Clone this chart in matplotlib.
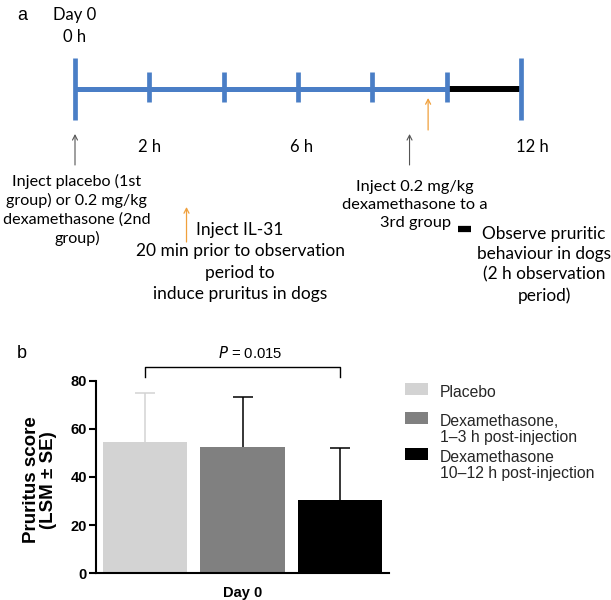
import matplotlib.pyplot as plt
from matplotlib.patches import Rectangle

# ── Data ──────────────────────────────────────────────────────────────────────
# timeline (hours on day 0)
tick_hours_major = [0, 12]
tick_hours_minor = [2, 4, 6, 8, 10]
hour_labels = {0: "0 h", 2: "2 h", 6: "6 h", 12: "12 h"}
observe_start, observe_end = 10, 12
inject_gray = [0, 9]        # placebo / dexamethasone injections
inject_il31 = [9.5]         # IL-31 injection before observation

# bar chart
groups = ["Placebo", "Dexamethasone,\n1–3 h post-injection",
          "Dexamethasone\n10–12 h post-injection"]
lsm = [54.5, 52.5, 30.5]
se = [20.5, 20.5, 21.5]
p_text = "$\\it{P}$ = 0.015"

bar_colors = ["#d3d3d3", "#808080", "#000000"]
err_colors = ["#d3d3d3", "#000000", "#000000"]

BLUE = "#4a7ec6"
ORANGE = "#f0a03c"
GRAY = "#555555"

fig = plt.figure(figsize=(6.11, 6.0), dpi=100)

# ── Panel a: timeline (x in hours, y in pixels from top) ─────────────────────
px_per_h = 37.17
ax_a = fig.add_axes([0, 0, 1, 1])
ax_a.set_xlim(-75 / px_per_h, (611 - 75) / px_per_h)
ax_a.set_ylim(600, 0)
ax_a.axis("off")

cal = ["Lato", "DejaVu Sans"]

ax_a.plot([0, observe_start], [89, 89], color=BLUE, lw=3.6, solid_capstyle="butt")
ax_a.plot([observe_start, observe_end], [89, 89], color="black", lw=4.3,
          solid_capstyle="butt", zorder=3)
ax_a.vlines(tick_hours_major, 58, 120, color=BLUE, lw=3.4, zorder=4)
ax_a.vlines(tick_hours_minor, 72, 102, color=BLUE, lw=3.4, zorder=4)

for h, lab in hour_labels.items():
    y = 37 if h == 0 else 147
    xh = h + 0.3 if h == 12 else h + (0.1 if h == 6 else 0)
    ax_a.text(xh, y, lab, ha="center", va="center", fontsize=12, family=cal)
ax_a.text(0, 15, "Day 0", ha="center", va="center", fontsize=12, family=cal)

arrow = "->,head_length=0.35,head_width=0.18"
for h in inject_gray:
    ax_a.annotate("", xy=(h, 134), xytext=(h, 165),
                  arrowprops=dict(arrowstyle=arrow, color=GRAY, lw=0.8,
                                  shrinkA=0, shrinkB=0))
for h in inject_il31:
    ax_a.annotate("", xy=(h, 98), xytext=(h, 130),
                  arrowprops=dict(arrowstyle=arrow, color=ORANGE, lw=0.9,
                                  shrinkA=0, shrinkB=0))
# key arrow next to the IL-31 note
ax_a.annotate("", xy=(3.0, 207), xytext=(3.0, 242),
              arrowprops=dict(arrowstyle=arrow, color=ORANGE, lw=0.9,
                              shrinkA=0, shrinkB=0))

ax_a.text(0.05, 210, "Inject placebo (1st\ngroup) or 0.2 mg/kg\ndexamethasone (2nd\ngroup)",
          ha="center", va="center", fontsize=11.6, family=cal, linespacing=1.37)
ax_a.text(4.44, 262, "Inject IL-31\n20 min prior to observation\nperiod to\ninduce pruritus in dogs",
          ha="center", va="center", fontsize=12.5, family=cal, linespacing=1.41)
ax_a.text(9.15, 205, "Inject 0.2 mg/kg\ndexamethasone to a\n3rd group",
          ha="center", va="center", fontsize=11.8, family=cal, linespacing=1.36)
ax_a.plot([10.3, 10.65], [229, 229], color="black", lw=4.5, solid_capstyle="butt")
ax_a.text(12.62, 265, "Observe pruritic\nbehaviour in dogs\n(2 h observation\nperiod)",
          ha="center", va="center", fontsize=12.4, family=cal, linespacing=1.32)

fig.text(22 / 611, 1 - 16 / 600, "a", ha="center", va="center", fontsize=13,
         family="Liberation Sans")
fig.text(22 / 611, 1 - 353 / 600, "b", ha="center", va="center", fontsize=13,
         family="Liberation Sans")

# ── Panel b: bar chart ────────────────────────────────────────────────────────
ax = fig.add_axes([96 / 611, 1 - 573.3 / 600, 293 / 611, 192.7 / 600])
x = list(range(len(groups)))
bars = ax.bar(x, lsm, width=0.862, color=bar_colors, zorder=2)
for i in x:
    _, caps, _ = ax.errorbar(x[i], lsm[i], yerr=[[0], [se[i]]], fmt="none",
                             ecolor=err_colors[i], elinewidth=1.1, capsize=7.2,
                             capthick=1.1, zorder=1)
    # upper error only: drop the cap sitting on the bar top
    for cap in caps:
        if cap.get_ydata()[0] <= lsm[i]:
            cap.set_visible(False)

ax.set_xlim(-0.5026, 2.5026)
ax.set_ylim(0, 80)
ax.set_yticks([0, 20, 40, 60, 80])
ax.set_xticks([1], ["Day 0"])
for s in ["top", "right"]:
    ax.spines[s].set_visible(False)
for s in ["left", "bottom"]:
    ax.spines[s].set_linewidth(1.5)
ax.tick_params(axis="y", length=5, width=1.5, pad=1.5, labelsize=10.5)
ax.tick_params(axis="x", length=0, pad=9, labelsize=10.5)
for lab in ax.get_xticklabels() + ax.get_yticklabels():
    lab.set_fontweight("bold")
    lab.set_family("Liberation Sans")

ax.set_ylabel("Pruritus score\n(LSM ± SE)", fontsize=13.5, fontweight="bold",
              family="Liberation Sans", va="center", linespacing=1.0)
ax.yaxis.set_label_coords(-0.191, 0.484)

# significance bracket between placebo and late dexamethasone
ax.plot([x[0], x[0], x[2], x[2]], [81.3, 85.7, 85.7, 81.3], color="black",
        lw=1.0, clip_on=False)
ax.text((x[0] + x[2]) / 2 + 0.08, 91.5, p_text, ha="center", va="center",
        fontsize=10.7, family="Liberation Sans")

# legend, one row per group (first text line in figure pixels from top)
legend_rows = [391, 420, 456]
for label, color, y0 in zip(groups, bar_colors, legend_rows):
    fig.add_artist(Rectangle((405 / 611, 1 - (y0 + 3.5) / 600), 23 / 611, 12 / 600,
                             transform=fig.transFigure, facecolor=color,
                             edgecolor="none"))
    fig.text(440 / 611, 1 - (y0 - 6) / 600, label, ha="left", va="top",
             fontsize=11.3, family="Liberation Sans", color="#262626",
             linespacing=1.05)

fig.savefig("out.png", dpi=100)
